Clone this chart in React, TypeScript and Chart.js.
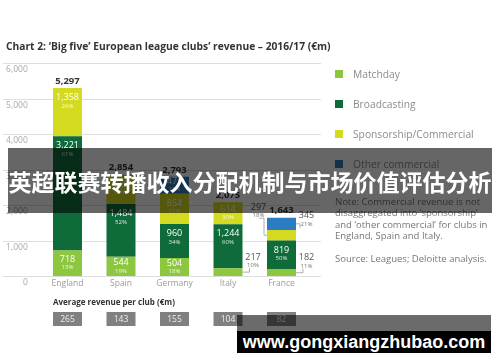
import React, { useEffect, useRef } from "react";
import { Chart, registerables } from "chart.js";

Chart.register(...registerables);

// ---- data ----
const countries = ["England", "Spain", "Germany", "Italy", "France"];
const seriesNames = ["Matchday", "Broadcasting", "Sponsorship/Commercial", "Other commercial"];
const matchday = [718, 544, 504, 217, 182];
const broadcasting = [3221, 1484, 960, 1244, 819];
const sponsorship = [1358, 826, 854, 614, 297];
const otherCommercial = [null, null, 475, null, 345];
const matchdayPct = [13, 19, 18, 10, 11];
const broadcastingPct = [61, 52, 34, 60, 50];
const sponsorshipPct = [26, 29, 31, 30, 18];
const otherCommercialPct = [null, null, 17, null, 21];
const totals = [5297, 2854, 2793, 2075, 1643];
const avgRevenue = [265, 143, 155, 104, 82];
const yTicks = [0, 1000, 2000, 3000, 4000, 5000, 6000];

const seriesColors = ["#8DC63F", "#106B3A", "#D4DA1F", "#2A7DC1"];
const seriesValues = [matchday, broadcasting, sponsorship, otherCommercial];
const seriesPcts = [matchdayPct, broadcastingPct, sponsorshipPct, otherCommercialPct];

// labels drawn outside the bar: key "dataset-index"
const outside: Record<string, "right" | "left"> = {
  "0-3": "right",
  "0-4": "right",
  "2-4": "left",
  "3-4": "right",
};

const FONT = '"Open Sans", "DejaVu Sans", sans-serif';
const fmt = (v: number) => v.toLocaleString("en-US");

const drawPlugin = {
  id: "customDraw",
  beforeDatasetsDraw(chart: any) {
    const { ctx } = chart;
    const y = chart.scales.y;
    ctx.save();
    ctx.strokeStyle = "#dedede";
    ctx.lineWidth = 1;
    yTicks.forEach((v) => {
      const py = Math.round(y.getPixelForValue(v)) + 0.5;
      ctx.beginPath();
      ctx.moveTo(3, py);
      ctx.lineTo(321, py);
      ctx.stroke();
    });
    ctx.restore();
  },
  afterDatasetsDraw(chart: any) {
    const { ctx } = chart;
    const y = chart.scales.y;
    const x = chart.scales.x;
    ctx.save();
    ctx.textAlign = "center";
    ctx.textBaseline = "middle";
    chart.data.datasets.forEach((ds: any, di: number) => {
      const meta = chart.getDatasetMeta(di);
      meta.data.forEach((el: any, i: number) => {
        const v = ds.data[i];
        if (v == null) return;
        const pct = seriesPcts[di][i];
        const top = Math.min(el.y, el.base);
        const bottom = Math.max(el.y, el.base);
        const mid = (top + bottom) / 2;
        const place = outside[`${di}-${i}`];
        if (!place) {
          const vy = Math.min(mid - 4, top + 9.5);
          ctx.fillStyle = "#ffffff";
          ctx.font = `9px ${FONT}`;
          ctx.fillText(fmt(v), el.x, vy);
          ctx.fillStyle = "rgba(255,255,255,0.85)";
          ctx.font = `6px ${FONT}`;
          ctx.fillText(pct + "%", el.x, vy + 8.5);
        } else {
          ctx.strokeStyle = "#9a9a9a";
          ctx.lineWidth = 0.8;
          if (place === "right") {
            const x0 = el.x + el.width / 2;
            const isBottom = di === 0;
            const vy = isBottom ? mid - 15 : mid - 8;
            ctx.beginPath();
            if (isBottom) {
              ctx.moveTo(x0, mid);
              ctx.lineTo(x0 + 7, mid);
              ctx.lineTo(x0 + 7, mid - 4);
            } else {
              ctx.moveTo(x0, mid);
              ctx.lineTo(x0 + 4, mid);
              ctx.lineTo(x0 + 4, mid + 4);
            }
            ctx.stroke();
            ctx.fillStyle = "#555";
            ctx.font = `9px ${FONT}`;
            ctx.fillText(fmt(v), x0 + 10.5, vy);
            ctx.fillStyle = "#777";
            ctx.font = `6px ${FONT}`;
            ctx.fillText(pct + "%", x0 + 10.5, vy + 8.5);
          } else {
            const xl = el.x - el.width / 2;
            const vy = mid - 28;
            ctx.beginPath();
            ctx.moveTo(xl - 8, vy + 11);
            ctx.lineTo(xl - 3, vy + 11);
            ctx.lineTo(xl - 3, mid);
            ctx.lineTo(xl, mid);
            ctx.stroke();
            ctx.fillStyle = "#555";
            ctx.font = `9px ${FONT}`;
            ctx.fillText(fmt(v), xl - 8.5, vy);
            ctx.fillStyle = "#777";
            ctx.font = `6px ${FONT}`;
            ctx.fillText(pct + "%", xl - 8.5, vy + 8.5);
          }
        }
      });
    });

    // totals above bars
    const meta0 = chart.getDatasetMeta(0);
    ctx.fillStyle = "#333";
    ctx.font = `bold 9.5px ${FONT}`;
    totals.forEach((t, i) => {
      const px = x.getPixelForValue(i);
      ctx.fillText(fmt(t), px, y.getPixelForValue(t) - 7);
    });

    // average revenue per club
    const w = meta0.data[0].width;
    const firstLeft = meta0.data[0].x - w / 2;
    ctx.textAlign = "left";
    ctx.fillStyle = "#333";
    ctx.font = `bold 8px ${FONT}`;
    ctx.fillText("Average revenue per club (€m)", firstLeft, 303);
    ctx.textAlign = "center";
    avgRevenue.forEach((a, i) => {
      const px = x.getPixelForValue(i);
      ctx.fillStyle = "#808080";
      ctx.fillRect(px - w / 2, 312, w, 14);
      ctx.fillStyle = "#eeeeee";
      ctx.font = `8.5px ${FONT}`;
      ctx.fillText(String(a), px, 319.5);
    });
    ctx.restore();
  },
};

export default function App() {
  const canvasRef = useRef<HTMLCanvasElement | null>(null);

  useEffect(() => {
    if (!canvasRef.current) return;
    const chart = new Chart(canvasRef.current, {
      type: "bar",
      data: {
        labels: countries,
        datasets: seriesNames.map((name, k) => ({
          label: name,
          data: seriesValues[k] as any,
          backgroundColor: seriesColors[k],
          borderWidth: 0,
          barPercentage: 0.542,
          categoryPercentage: 1,
        })),
      },
      options: {
        responsive: false,
        animation: false,
        events: [],
        layout: { padding: { left: 0, top: 63, right: 191.75, bottom: 66 } },
        plugins: { legend: { display: false }, tooltip: { enabled: false } },
        scales: {
          x: {
            stacked: true,
            grid: { display: false, drawTicks: false },
            border: { display: false },
            ticks: { color: "#9a9a9a", font: { family: FONT, size: 8.5 }, padding: 2 },
            afterFit: (s: any) => {
              s.height = 20;
            },
          },
          y: {
            stacked: true,
            min: 0,
            max: 6000,
            grid: { display: false, drawTicks: false },
            border: { display: false },
            ticks: {
              stepSize: 1000,
              color: "#a8a8a8",
              font: { family: FONT, size: 8.5 },
              padding: 13,
              labelOffset: 7,
              callback: (v: any) => fmt(Number(v)),
            },
            afterFit: (s: any) => {
              s.width = 40.75;
            },
          },
        },
      },
      plugins: [drawPlugin],
    });
    return () => chart.destroy();
  }, []);

  const legendTops = [74, 104, 134, 164];

  return (
    <div
      style={{
        position: "absolute",
        left: 0,
        top: 0,
        width: 500,
        height: 362,
        background: "#fff",
        overflow: "hidden",
        fontFamily: FONT,
      }}
    >
      <canvas ref={canvasRef} width={500} height={362} style={{ position: "absolute", left: 0, top: 0 }} />
      <div
        style={{
          position: "absolute",
          left: 6,
          top: 39,
          fontSize: 10.25,
          lineHeight: "14px",
          fontWeight: 700,
          color: "#333",
          whiteSpace: "nowrap",
        }}
      >
        Chart 2: ‘Big five’ European league clubs’ revenue – 2016/17 (€m)
      </div>
      {seriesNames.map((name, k) => (
        <div key={name}>
          <div
            style={{
              position: "absolute",
              left: 335,
              top: legendTops[k] - 4,
              width: 8,
              height: 8,
              background: seriesColors[k],
            }}
          />
          <div
            style={{
              position: "absolute",
              left: 353,
              top: legendTops[k] - 7,
              fontSize: 10.25,
              lineHeight: "14px",
              color: "#8c8c8c",
              whiteSpace: "nowrap",
            }}
          >
            {name}
          </div>
        </div>
      ))}
      <div
        style={{
          position: "absolute",
          left: 335,
          top: 196,
          fontSize: 9.5,
          lineHeight: "11.4px",
          color: "#777",
          whiteSpace: "pre",
        }}
      >
        {"Note: Commercial revenue is not\ndisaggregated into ‘sponsorship’\nand ‘other commercial’ for clubs in\nEngland, Spain and Italy.\n\nSource: Leagues; Deloitte analysis."}
      </div>
      {/* overlay banner */}
      <div
        style={{
          position: "absolute",
          left: 8,
          top: 148,
          width: 484,
          height: 65,
          background: "rgba(0,0,0,0.6)",
          display: "flex",
          alignItems: "center",
          justifyContent: "center",
        }}
      >
        <span
          style={{
            color: "#fff",
            fontFamily: '"Noto Sans CJK SC", sans-serif',
            fontWeight: 700,
            fontSize: 23,
            whiteSpace: "nowrap",
          }}
        >
          英超联赛转播收入分配机制与市场价值评估分析
        </span>
      </div>
      <div
        style={{
          position: "absolute",
          left: 237,
          top: 315,
          width: 254,
          height: 16,
          background: "rgba(0,0,0,0.58)",
        }}
      />
      <div
        style={{
          position: "absolute",
          left: 237,
          top: 331,
          width: 254,
          height: 22,
          background: "#000",
          color: "#fff",
          fontFamily: '"Liberation Sans", Arial, sans-serif',
          fontWeight: 700,
          fontSize: 18,
          lineHeight: "22px",
          textAlign: "center",
          whiteSpace: "nowrap",
        }}
      >
        www.gongxiangzhubao.com
      </div>
    </div>
  );
}
